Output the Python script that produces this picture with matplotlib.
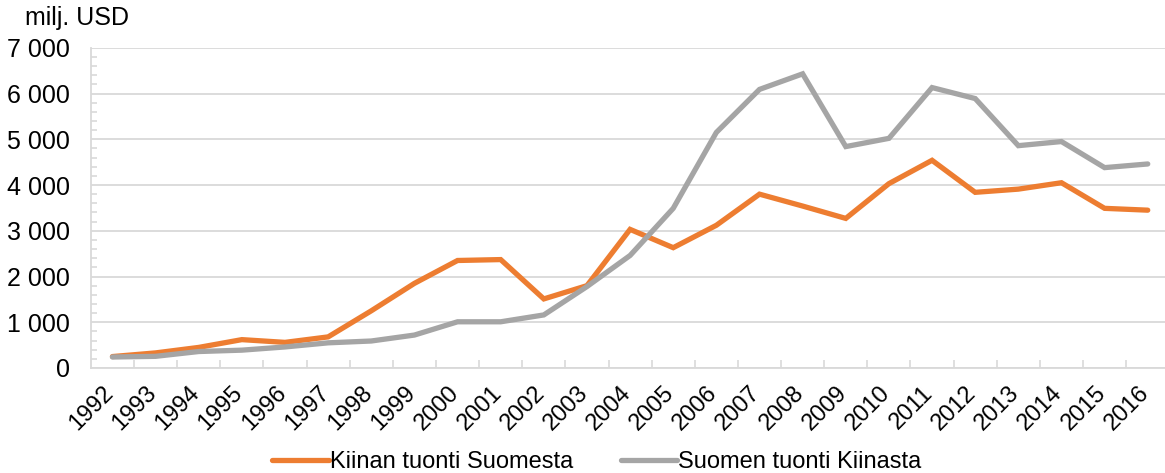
import numpy as np
import matplotlib.pyplot as plt
import matplotlib.transforms as mtransforms
from matplotlib.ticker import FuncFormatter, MultipleLocator, FixedLocator

plt.rcParams["font.family"] = ["Liberation Sans", "DejaVu Sans"]

# Tiedot (milj. USD)
vuodet = list(range(1992, 2017))
kiinan_tuonti_suomesta = [250, 330, 450, 620, 560, 680, 1250, 1850, 2350, 2370,
                          1510, 1800, 3030, 2630, 3120, 3800, 3540, 3270, 4030,
                          4540, 3840, 3910, 4050, 3490, 3450]
suomen_tuonti_kiinasta = [240, 255, 360, 390, 460, 550, 590, 720, 1010, 1010,
                          1160, 1780, 2460, 3490, 5150, 6090, 6430, 4840, 5020,
                          6130, 5890, 4860, 4950, 4380, 4460]
sarjat = ["Kiinan tuonti Suomesta", "Suomen tuonti Kiinasta"]
varit = ["#ED7D31", "#A5A5A5"]

grid_col = "#D9D9D9"

fig = plt.figure(figsize=(11.65, 4.73), dpi=100)
ax = fig.add_axes([0.078, 0.222, 0.922, 0.677])

for arvot, nimi, vari in zip([kiinan_tuonti_suomesta, suomen_tuonti_kiinasta], sarjat, varit):
    ax.plot(vuodet, arvot, color=vari, lw=3.8, label=nimi,
            solid_capstyle="round", solid_joinstyle="miter", zorder=3)

# Akselit
ax.set_xlim(1991.5, 2016.4)
ax.set_ylim(0, 7000)
ax.yaxis.set_major_locator(MultipleLocator(1000))
ax.yaxis.set_minor_locator(MultipleLocator(200))
ax.yaxis.set_major_formatter(FuncFormatter(lambda v, p: f"{int(v):,}".replace(",", " ")))
ax.grid(axis="y", color=grid_col, lw=1.3, zorder=0)
ax.set_axisbelow(True)

for s in ["top", "right"]:
    ax.spines[s].set_visible(False)
for s in ["left", "bottom"]:
    ax.spines[s].set_color(grid_col)
    ax.spines[s].set_linewidth(1.3)

ax.tick_params(axis="y", which="major", length=0, pad=15, labelsize=18)
ax.tick_params(axis="y", which="minor", direction="in", length=4, color=grid_col, width=1.2)

# Vuosien nimiöt kategorioiden kohdalle, merkit kategorioiden väliin
ax.set_xticks(vuodet)
ax.set_xticklabels([str(v) for v in vuodet], rotation=45, ha="right",
                   va="top", rotation_mode="anchor", fontsize=17)
ax.tick_params(axis="x", which="major", length=0, pad=10)
ax.xaxis.set_minor_locator(FixedLocator(np.array(vuodet[:-1]) + 0.5))
ax.tick_params(axis="x", which="minor", direction="in", length=6, color=grid_col, width=1.2)
offset = mtransforms.ScaledTranslation(-10 / 100, 0, fig.dpi_scale_trans)
for lbl in ax.get_xticklabels():
    lbl.set_transform(lbl.get_transform() + offset)

fig.text(25 / 1165, 1 - 18 / 473, "milj. USD", fontsize=18, va="center", ha="left")

fig.legend(loc="center", bbox_to_anchor=(597 / 1165, 1 - 462 / 473), ncol=2,
           frameon=False, fontsize=17, handlelength=2.4, handletextpad=0.05,
           columnspacing=2.0)

fig.savefig("out.png", dpi=100)
